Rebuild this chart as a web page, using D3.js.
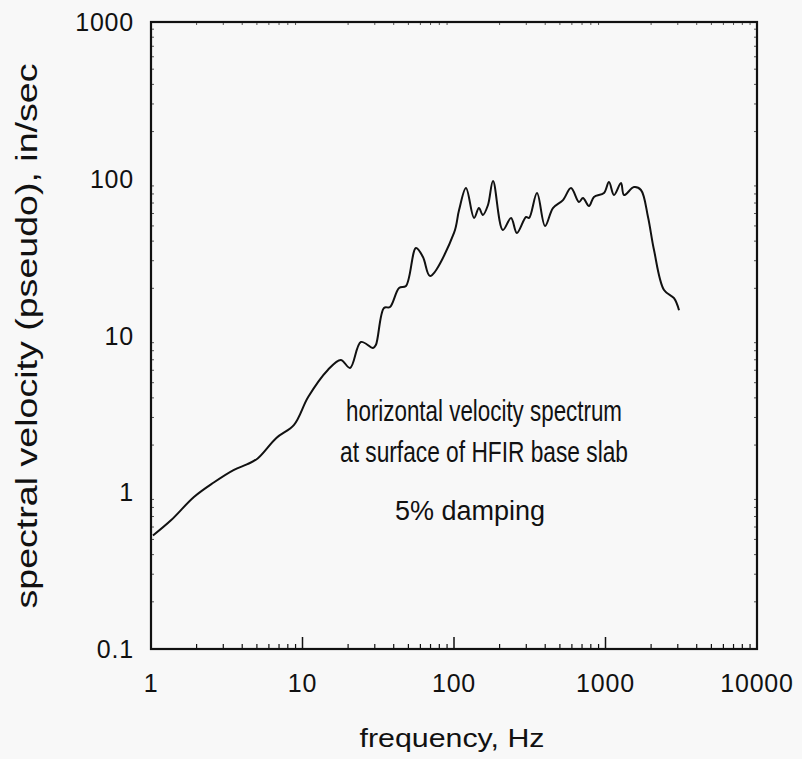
<!DOCTYPE html>
<head>
<meta charset="utf-8">
<style>
body { margin: 0; background: #f8f8f8; }
svg { display: block; }
.tick-label { font-family: "Liberation Sans", Arial, sans-serif; font-size: 25px; letter-spacing: 0.8px; fill: #111; }
.axis-title { font-family: "Liberation Sans", Arial, sans-serif; fill: #111; }
.note { font-family: "Liberation Sans Narrow", "Liberation Sans", Arial, sans-serif; fill: #111; }
</style>
</head>
<body>
<svg width="802" height="759"></svg>
<script src="https://d3js.org/d3.v7.min.js"></script>
<script>
// spectrum (Hz, in/sec)
var freq = [1.03, 1.36, 1.92, 2.58, 3.53, 4.33, 5.08, 6.72, 8.79, 10.9, 14.7, 17.9, 20.6, 24.3, 29.2, 30.5,
            34.5, 37.8, 43.4, 48.2, 56.1, 62.4, 69.5, 100, 108, 120, 135.6, 146, 155, 167.6, 181,
            210, 238, 260, 299, 313, 353, 399, 450, 524, 592, 668, 710, 778, 839, 977, 1054,
            1138, 1266, 1325, 1542, 1714, 1908, 2090, 2434, 2833, 3057];
var velocity = [0.53, 0.665, 0.933, 1.15, 1.39, 1.51, 1.65, 2.22, 2.69, 4.05, 6.03, 6.98, 6.21, 9.09, 8.32, 8.70,
            15.0, 15.2, 20.1, 20.7, 36.2, 31.7, 24.0, 45.1, 63.2, 87.3, 56.2, 65.0, 58.7, 68.0, 96.8,
            47.1, 56.2, 45.1, 57.0, 56.2, 81.1, 50.0, 65.0, 73.1, 87.3, 71.1, 75.4, 67.0, 76.5, 81.1, 95.3,
            78.7, 93.9, 78.7, 88.5, 84.8, 57.0, 35.1, 19.5, 17.3, 14.5];

var xTicks = [1, 10, 100, 1000, 10000];
var yTicks = [0.1, 1, 10, 100, 1000];
var xTickLabels = ["1", "10", "100", "1000", "10000"];
var yTickLabels = ["0.1", "1", "10", "100", "1000"];

var svg = d3.select("svg");

var x = d3.scaleLog().domain([1, 10000]).range([151, 757]);
var y = d3.scaleLog().domain([0.1, 1000]).range([649, 22]);

// minor ticks, every 1..9 of each decade
var minorX = [], minorY = [];
for (var d = 0; d < 4; d++) {
  for (var k = 2; k < 10; k++) {
    minorX.push(k * Math.pow(10, d));
    minorY.push(k * Math.pow(10, d - 1));
  }
}

var g = svg.append("g");

g.selectAll(".mxb").data(minorX).enter().append("line")
    .attr("x1", function(d) { return x(d); }).attr("x2", function(d) { return x(d); })
    .attr("y1", y(0.1)).attr("y2", y(0.1) - 5)
    .attr("stroke", "#111").attr("stroke-width", 1.2);
g.selectAll(".mxt").data(minorX).enter().append("line")
    .attr("x1", function(d) { return x(d); }).attr("x2", function(d) { return x(d); })
    .attr("y1", y(1000)).attr("y2", y(1000) + 3)
    .attr("stroke", "#555").attr("stroke-width", 1);
g.selectAll(".myl").data(minorY).enter().append("line")
    .attr("x1", x(1)).attr("x2", x(1) + 3)
    .attr("y1", function(d) { return y(d); }).attr("y2", function(d) { return y(d); })
    .attr("stroke", "#555").attr("stroke-width", 1);
g.selectAll(".myr").data(minorY).enter().append("line")
    .attr("x1", x(10000)).attr("x2", x(10000) - 3)
    .attr("y1", function(d) { return y(d); }).attr("y2", function(d) { return y(d); })
    .attr("stroke", "#555").attr("stroke-width", 1);
// major ticks on the bottom
g.selectAll(".majx").data(xTicks.slice(1, 4)).enter().append("line")
    .attr("x1", function(d) { return x(d); }).attr("x2", function(d) { return x(d); })
    .attr("y1", y(0.1)).attr("y2", y(0.1) - 12)
    .attr("stroke", "#111").attr("stroke-width", 1.5);

// frame
g.append("rect")
    .attr("x", x(1)).attr("y", y(1000))
    .attr("width", x(10000) - x(1)).attr("height", y(0.1) - y(1000))
    .attr("fill", "none").attr("stroke", "#111").attr("stroke-width", 2.2);

// tick labels
g.selectAll(".xl").data(xTicks).enter().append("text")
    .attr("class", "tick-label")
    .attr("x", function(d) { return x(d); })
    .attr("y", 692)
    .attr("text-anchor", "middle")
    .text(function(d, i) { return xTickLabels[i]; });
g.selectAll(".yl").data(yTicks).enter().append("text")
    .attr("class", "tick-label")
    .attr("x", 134)
    .attr("y", function(d) { return y(d); })
    .attr("dy", "0.36em")
    .attr("text-anchor", "end")
    .text(function(d, i) { return yTickLabels[i]; });

// axis titles
g.append("text").attr("class", "axis-title")
    .attr("x", 452).attr("y", 747)
    .attr("text-anchor", "middle")
    .style("font-size", "26px")
    .attr("textLength", 185).attr("lengthAdjust", "spacingAndGlyphs")
    .text("frequency, Hz");
g.append("text").attr("class", "axis-title")
    .attr("transform", "translate(37,336) rotate(-90)")
    .attr("text-anchor", "middle")
    .style("font-size", "29px")
    .attr("textLength", 545).attr("lengthAdjust", "spacingAndGlyphs")
    .text("spectral velocity (pseudo), in/sec");

// spectrum curve
var pts = freq.map(function(f, i) { return [f, velocity[i]]; });
var line = d3.line()
    .x(function(d) { return x(d[0]); })
    .y(function(d) { return y(d[1]); })
    .curve(d3.curveCatmullRom.alpha(0.5));
g.append("path")
    .datum(pts)
    .attr("d", line)
    .attr("fill", "none")
    .attr("stroke", "#111")
    .attr("stroke-width", 2)
    .attr("stroke-linejoin", "round");

// notes
g.append("text").attr("class", "note")
    .attr("x", 484).attr("y", 421)
    .attr("text-anchor", "middle")
    .style("font-size", "30px")
    .attr("textLength", 276).attr("lengthAdjust", "spacingAndGlyphs")
    .text("horizontal velocity spectrum");
g.append("text").attr("class", "note")
    .attr("x", 484).attr("y", 462)
    .attr("text-anchor", "middle")
    .style("font-size", "30px")
    .attr("textLength", 288).attr("lengthAdjust", "spacingAndGlyphs")
    .text("at surface of HFIR base slab");
g.append("text").attr("class", "axis-title")
    .attr("x", 470).attr("y", 520)
    .attr("text-anchor", "middle")
    .style("font-size", "27px")
    .text("5% damping");
</script>
</body>
